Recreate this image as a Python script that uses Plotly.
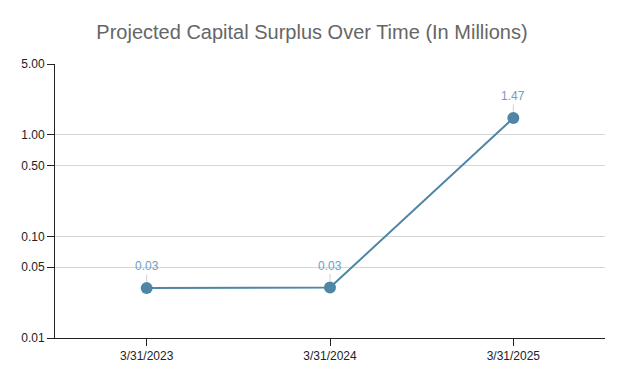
import plotly.graph_objects as go
import math

dates = ["3/31/2023", "3/31/2024", "3/31/2025"]
surplus = [0.031, 0.0314, 1.47]
labels = ["0.03", "0.03", "1.47"]
ytick_vals = [0.01, 0.05, 0.1, 0.5, 1, 5]
ytick_text = ["0.01", "0.05", "0.10", "0.50", "1.00", "5.00"]

line_color = "#4f86a6"
label_color = "#6f9ec0"

fig = go.Figure()
fig.add_trace(go.Scatter(
    x=dates, y=surplus, mode="lines+markers",
    line=dict(color=line_color, width=2),
    marker=dict(color=line_color, size=12),
    hoverinfo="skip", showlegend=False,
))

for d, v, t in zip(dates, surplus, labels):
    fig.add_annotation(
        x=d, y=math.log10(v), text=t, showarrow=True, arrowhead=0,
        arrowwidth=1, arrowcolor="#d0d0d0", ax=0, ay=-22, standoff=6,
        font=dict(family="Liberation Sans, Arial, sans-serif", size=12, color=label_color),
    )

fig.update_layout(
    width=624, height=385,
    margin=dict(l=55, r=19, t=64, b=47),
    paper_bgcolor="white", plot_bgcolor="white",
    title=dict(text="Projected Capital Surplus Over Time (In Millions)",
               x=0.5, xanchor="center", y=32/385, yref="container", yanchor="middle",
               font=dict(family="Liberation Sans, Arial, sans-serif", size=20, color="#666666")),
    font=dict(family="Liberation Sans, Arial, sans-serif", size=12, color="#333333"),
)
fig.update_layout(title_y=1 - 32/385)

fig.update_xaxes(
    type="category", range=[-0.5, 2.5], showline=True, linecolor="#222222", linewidth=1,
    ticks="outside", ticklen=7, tickcolor="#222222", tickwidth=1, showgrid=False,
    tickfont=dict(size=12, color="#222222"), zeroline=False,
)
fig.update_yaxes(
    type="log", range=[-2, math.log10(5)], tickvals=ytick_vals, ticktext=ytick_text,
    showline=True, linecolor="#222222", linewidth=1, ticks="outside", ticklen=7,
    tickcolor="#222222", showgrid=True, gridcolor="#d6d6d6", gridwidth=1,
    tickfont=dict(size=12, color="#222222"), zeroline=False,
)

fig.write_html("out.html")
